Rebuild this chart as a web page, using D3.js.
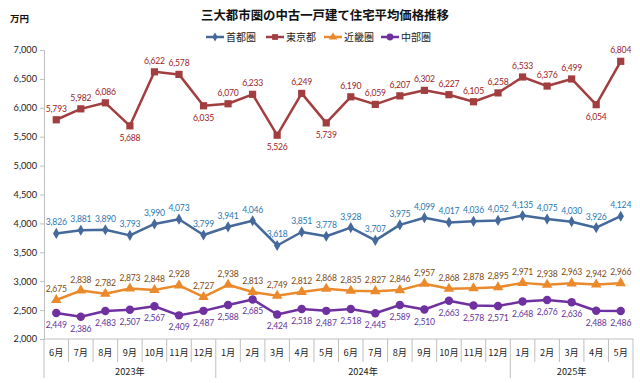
<!DOCTYPE html>
<html><head><meta charset="utf-8">
<script src="https://cdn.jsdelivr.net/npm/d3@7"></script>
<style>
html,body{margin:0;padding:0;background:#fff;}
svg{display:block;font-family:Lato,"Noto Sans CJK JP",sans-serif;}
</style></head>
<body><svg id="c" width="640" height="383"></svg>
<script>
const months = ["6月","7月","8月","9月","10月","11月","12月","1月","2月","3月","4月","5月","6月","7月","8月","9月","10月","11月","12月","1月","2月","3月","4月","5月"];
const years = [{label:"2023年", n:7},{label:"2024年", n:12},{label:"2025年", n:5}];
const shutoken = [3826,3881,3890,3793,3990,4073,3799,3941,4046,3618,3851,3778,3928,3707,3975,4099,4017,4036,4052,4135,4075,4030,3926,4124];
const tokyo = [5793,5982,6086,5688,6622,6578,6035,6070,6233,5526,6249,5739,6190,6059,6207,6302,6227,6105,6258,6533,6376,6499,6054,6804];
const kinki = [2675,2838,2782,2873,2848,2928,2727,2938,2813,2749,2812,2868,2835,2827,2846,2957,2868,2878,2895,2971,2938,2963,2942,2966];
const chubu = [2449,2386,2483,2507,2567,2409,2487,2588,2685,2424,2518,2487,2518,2445,2589,2510,2663,2578,2571,2648,2676,2636,2488,2486];
const tokyoBelow = [3,6,9,11,22];
const yTicks = [2000,2500,3000,3500,4000,4500,5000,5500,6000,6500,7000];

const series = [
  {name:"首都圏", data:shutoken, line:"#44699a", label:"#2a78b0", marker:"diamond", pos:()=>"above"},
  {name:"東京都", data:tokyo, line:"#a33e40", label:"#9c2226", marker:"square", pos:i=>tokyoBelow.includes(i)?"below":"above"},
  {name:"近畿圏", data:kinki, line:"#ea8a2c", label:"#7d4b16", marker:"triangle", pos:()=>"above"},
  {name:"中部圏", data:chubu, line:"#7031a0", label:"#65349a", marker:"circle", pos:()=>"below"}
];

const svg = d3.select("#c");
const L=44, R=633, T=50, B=339;
const x = d3.scaleBand().domain(d3.range(months.length)).range([L,R]);
const y = d3.scaleLinear().domain([2000,7000]).range([B,T]);
const fmt = d3.format(",");

// title
svg.append("text").attr("x",325).attr("y",20).attr("text-anchor","middle")
  .attr("font-family","'Noto Sans CJK JP',sans-serif").attr("font-weight","bold").attr("font-size",12.4).attr("fill","#111")
  .text("三大都市圏の中古一戸建て住宅平均価格推移");
svg.append("text").attr("x",10).attr("y",22).attr("font-family","'Noto Sans CJK JP',sans-serif")
  .attr("font-weight","bold").attr("font-size",9.5).attr("fill","#111").text("万円");

// y axis
const yAxis = d3.axisLeft(y).tickValues(yTicks).tickFormat(fmt).tickSize(4).tickPadding(3);
const ya = svg.append("g").attr("transform",`translate(${L},0)`).call(yAxis);
ya.select(".domain").attr("stroke","#bfbfbf");
ya.selectAll(".tick line").attr("stroke","#bfbfbf");
ya.selectAll("text").attr("font-size",9.2).attr("fill","#222").attr("font-family","Lato,sans-serif");

// category axis
svg.append("line").attr("x1",L).attr("x2",R).attr("y1",B).attr("y2",B).attr("stroke","#bfbfbf");
const monthG = svg.append("g");
months.forEach((m,i)=>{
  monthG.append("text").attr("x",x(i)+x.bandwidth()/2).attr("y",356).attr("text-anchor","middle")
    .attr("font-size",9.2).attr("fill","#222").attr("font-family","'Noto Sans CJK JP',sans-serif").text(m);
});
let start=0; const yearStarts=[0];
years.forEach(yr=>{ start+=yr.n; yearStarts.push(start); });
for(let i=0;i<=months.length;i++){
  const xx = i<months.length ? x(i) : R;
  const isYear = yearStarts.includes(i);
  svg.append("line").attr("x1",xx).attr("x2",xx).attr("y1",B).attr("y2",isYear?378:362).attr("stroke","#bfbfbf");
}
years.forEach((yr,k)=>{
  const a = x(yearStarts[k]);
  const b = yearStarts[k+1]<months.length ? x(yearStarts[k+1]) : R;
  svg.append("text").attr("x",(a+b)/2).attr("y",375).attr("text-anchor","middle")
    .attr("font-size",9.2).attr("fill","#222").attr("font-family","'Noto Sans CJK JP',sans-serif").text(yr.label);
});

function markerPath(type){
  if(type==="diamond") return d3.symbol(d3.symbolDiamond,36)();
  if(type==="square") return d3.symbol(d3.symbolSquare,52)();
  if(type==="triangle") return d3.symbol(d3.symbolTriangle,48)();
  return d3.symbol(d3.symbolCircle,56)();
}
const cx = i=>x(i)+x.bandwidth()/2;
const line = d3.line().x((d,i)=>cx(i)).y(d=>y(d));

series.forEach(s=>{
  svg.append("path").datum(s.data).attr("d",line).attr("fill","none").attr("stroke",s.line).attr("stroke-width",2.5).attr("stroke-linejoin","round");
  svg.append("g").selectAll("path").data(s.data).join("path")
    .attr("d",markerPath(s.marker)).attr("transform",(d,i)=>`translate(${cx(i)},${y(d)})`).attr("fill",s.line);
  svg.append("g").selectAll("text").data(s.data).join("text")
    .attr("x",(d,i)=>cx(i)).attr("y",(d,i)=>s.pos(i)==="above"? y(d)-8 : y(d)+15)
    .attr("text-anchor","middle").attr("font-size",8.6).attr("fill",s.label).attr("font-family","Lato,sans-serif")
    .attr("letter-spacing",-0.2)
    .text(d=>fmt(d));
});

// legend
const legX = [206,266,324,381];
series.forEach((s,k)=>{
  const g = svg.append("g").attr("transform",`translate(${legX[k]},37)`);
  g.append("line").attr("x1",0).attr("x2",18).attr("stroke",s.line).attr("stroke-width",2.5);
  g.append("path").attr("d",markerPath(s.marker)).attr("transform","translate(9,0) scale(0.8)").attr("fill",s.line);
  g.append("text").attr("x",20).attr("y",4).attr("font-size",10).attr("fill","#222")
    .attr("font-family","'Noto Sans CJK JP',sans-serif").text(s.name);
});
</script></body></html>
